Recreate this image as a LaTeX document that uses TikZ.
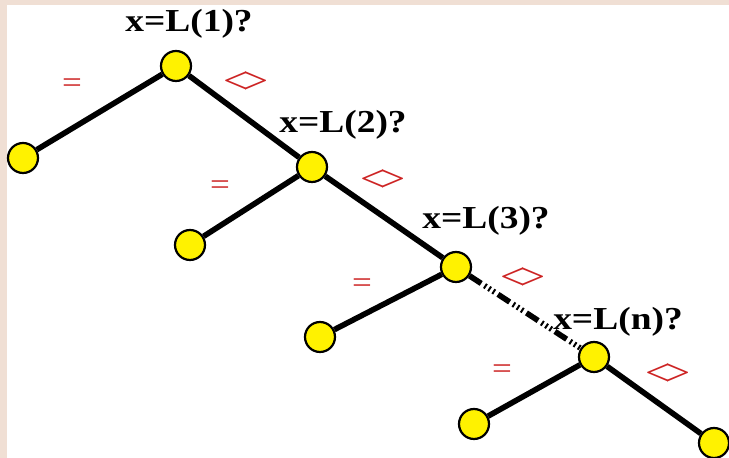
\documentclass[tikz,border=0pt]{standalone}
\usepackage{fontspec}
\setmainfont{Liberation Serif}
\newfontfamily\lblfont[FakeStretch=1.17]{Liberation Serif}
\usepackage{tikz}
\usetikzlibrary{positioning}
\definecolor{pagebeige}{RGB}{240,223,212}
\definecolor{lblred}{RGB}{205,35,35}

\begin{document}
\begin{tikzpicture}[x=0.5pt,y=-0.5pt,
		knot/.style={circle,draw=black,fill=yellow,line width=1.1pt,minimum size=15pt,inner sep=0pt},
		edge/.style={line width=2.8pt},
		quest/.style={font=\lblfont\bfseries\fontsize{16}{18}\selectfont,inner sep=0pt},
		cmp/.style={text=lblred,font=\lblfont\fontsize{15}{17}\selectfont,inner sep=0pt},
		neq/.style={text=lblred,font=\lblfont\fontsize{19}{21}\selectfont,inner sep=0pt}]
				\useasboundingbox (0,0) rectangle (729,458);
				\fill[pagebeige] (0,0) rectangle (729,458);
				\fill[white] (7,5) rectangle (729,458);
				% tests
				\node[knot] (t1) at (176,66) {};
				\node[knot] (t2) at (312,167) {};
				\node[knot] (t3) at (456,267) {};
				\node[knot] (tn) at (594,357) {};
				% leaves
				\node[knot] (f1) at (23,158) {};
				\node[knot] (f2) at (190,245) {};
				\node[knot] (f3) at (320,337) {};
				\node[knot] (fn) at (474,424) {};
				\node[knot] (fe) at (714,443) {};
				\draw[edge] (t1) -- (f1);
				\draw[edge] (t1) -- (t2);
				\draw[edge] (t2) -- (f2);
				\draw[edge] (t2) -- (t3);
				\draw[edge] (t3) -- (f3);
				\draw[edge,dash pattern=on 7pt off 2pt on 1pt off 1.5pt on 1pt off 1.5pt on 1pt off 2pt] (t3) -- (tn);
				\draw[edge] (tn) -- (fn);
				\draw[edge] (tn) -- (fe);
				% questions
				\node[quest] (q1) at (189,24) {x=L(1)?};
				\node[quest] (q2) at (343,125) {x=L(2)?};
				\node[quest] (q3) at (486,221) {x=L(3)?};
				\node[quest] (qn) at (618,322) {x=L(n)?};
				% branch labels
				\node[cmp] (e1) at (72,86) {=};
				\node[cmp] (e2) at (220,188) {=};
				\node[cmp] (e3) at (362,286) {=};
				\node[cmp] (en) at (502,372) {=};
				\node[neq] (d1) at (246,83) {<\kern-0.13em>};
				\node[neq] (d2) at (383,181) {<\kern-0.13em>};
				\node[neq] (d3) at (523,279) {<\kern-0.13em>};
				\node[neq] (dn) at (668,375) {<\kern-0.13em>};
	\end{tikzpicture}
\end{document}
